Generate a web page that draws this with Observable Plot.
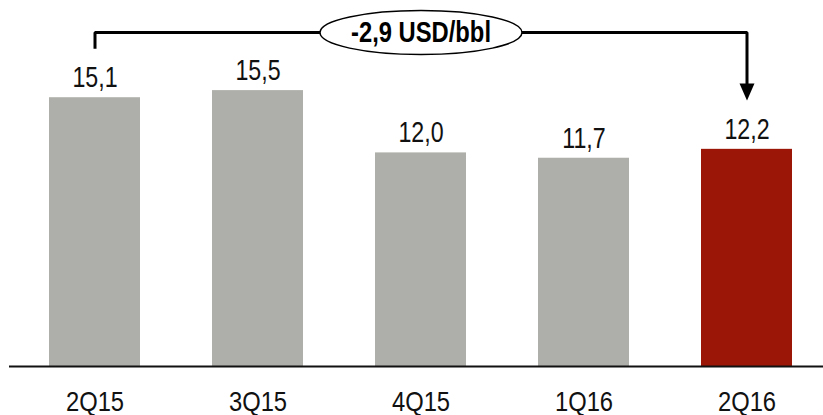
<!DOCTYPE html>
<html><head><meta charset="utf-8">
<script src="https://cdn.jsdelivr.net/npm/d3@7"></script>
<script src="https://cdn.jsdelivr.net/npm/@observablehq/plot@0.6"></script>
<style>body{margin:0;background:#fff;} #chart{width:823px;height:415px;}</style>
</head><body><div id="chart"></div>
<script>
const quarters = ["2Q15", "3Q15", "4Q15", "1Q16", "2Q16"];
const costs = [15.1, 15.5, 12.0, 11.7, 12.2];
const barColors = ["#aeafaa", "#aeafaa", "#aeafaa", "#aeafaa", "#9b1606"];

const fmt = v => v.toFixed(1).replace(".", ",");
const bars = quarters.map((q, i) => ({q, v: costs[i], c: barColors[i]}));

// annotation (data units)
const last = quarters.length - 1;
const deltaLabel = fmt(costs[last] - costs[0]) + " USD/bbl";
const bracketLevel = Math.max(...costs) + 3.26;
const endGap = 2.75;
const bracket = [
  {q: quarters[0], v: costs[0] + endGap},
  {q: quarters[0], v: bracketLevel},
  {q: quarters[last], v: bracketLevel},
  {q: quarters[last], v: costs[last] + endGap + 0.5}
];

const ellipse = {draw(ctx) {
  const rx = 101, ry = 22, k = 0.5523;
  ctx.moveTo(rx, 0);
  ctx.bezierCurveTo(rx, ry * k, rx * k, ry, 0, ry);
  ctx.bezierCurveTo(-rx * k, ry, -rx, ry * k, -rx, 0);
  ctx.bezierCurveTo(-rx, -ry * k, -rx * k, -ry, 0, -ry);
  ctx.bezierCurveTo(rx * k, -ry, rx, -ry * k, rx, 0);
  ctx.closePath();
}};
const head = {draw(ctx) {
  ctx.moveTo(-7.5, -17); ctx.lineTo(7.5, -17); ctx.lineTo(0, 0); ctx.closePath();
}};

const font = "'Liberation Sans', Arial, sans-serif";

const chart = Plot.plot({
  width: 823,
  height: 415,
  marginLeft: 9,
  marginRight: 0,
  marginTop: 10,
  marginBottom: 49,
  style: {fontFamily: font, background: "#fff"},
  x: {domain: quarters, range: [13, 828], paddingInner: 0.44, paddingOuter: 0.22, label: null},
  y: {domain: [0, 20], axis: null},
  marks: [
    Plot.barY(bars, {x: "q", y: "v", fill: "c"}),
    Plot.ruleY([0], {stroke: "#111", strokeWidth: 2}),
    Plot.axisX({tickSize: 0, tickPadding: 25, fontSize: 27, fill: "#111", label: null}),
    Plot.text(bars, {x: "q", y: "v", text: d => fmt(d.v), lineAnchor: "bottom", dy: -10.5, fontSize: 29, fill: "#111"}),
    Plot.line(bracket, {x: "q", y: "v", stroke: "#000", strokeWidth: 3, strokeLinejoin: "miter", strokeLinecap: "butt"}),
    Plot.dot([{q: quarters[last], v: costs[last] + endGap}], {x: "q", y: "v", symbol: head, fill: "#000", stroke: null}),
    Plot.dot([{q: quarters[2], v: bracketLevel}], {x: "q", y: "v", symbol: ellipse, fill: "#fff", stroke: "#000", strokeWidth: 1.5}),
    Plot.text([{q: quarters[2], v: bracketLevel}], {x: "q", y: "v", text: () => deltaLabel, fontSize: 29, fontWeight: "bold", fill: "#000"})
  ]
});
document.getElementById("chart").appendChild(chart);

// narrow the type like the reference's condensed face, around each label's anchor
function condense(el, k) {
  if (el.hasAttribute("x")) el.setAttribute("x", +el.getAttribute("x") / k);
  const t = el.getAttribute("transform") || "";
  el.setAttribute("transform", `${t} scale(${k},1)`.trim());
}
chart.querySelectorAll('g[aria-label="x-axis tick label"] text').forEach(el => condense(el, 0.88));
chart.querySelectorAll('g[aria-label="text"] text').forEach(el => condense(el, el.textContent === deltaLabel ? 0.82 : 0.80));
</script>
</body></html>
